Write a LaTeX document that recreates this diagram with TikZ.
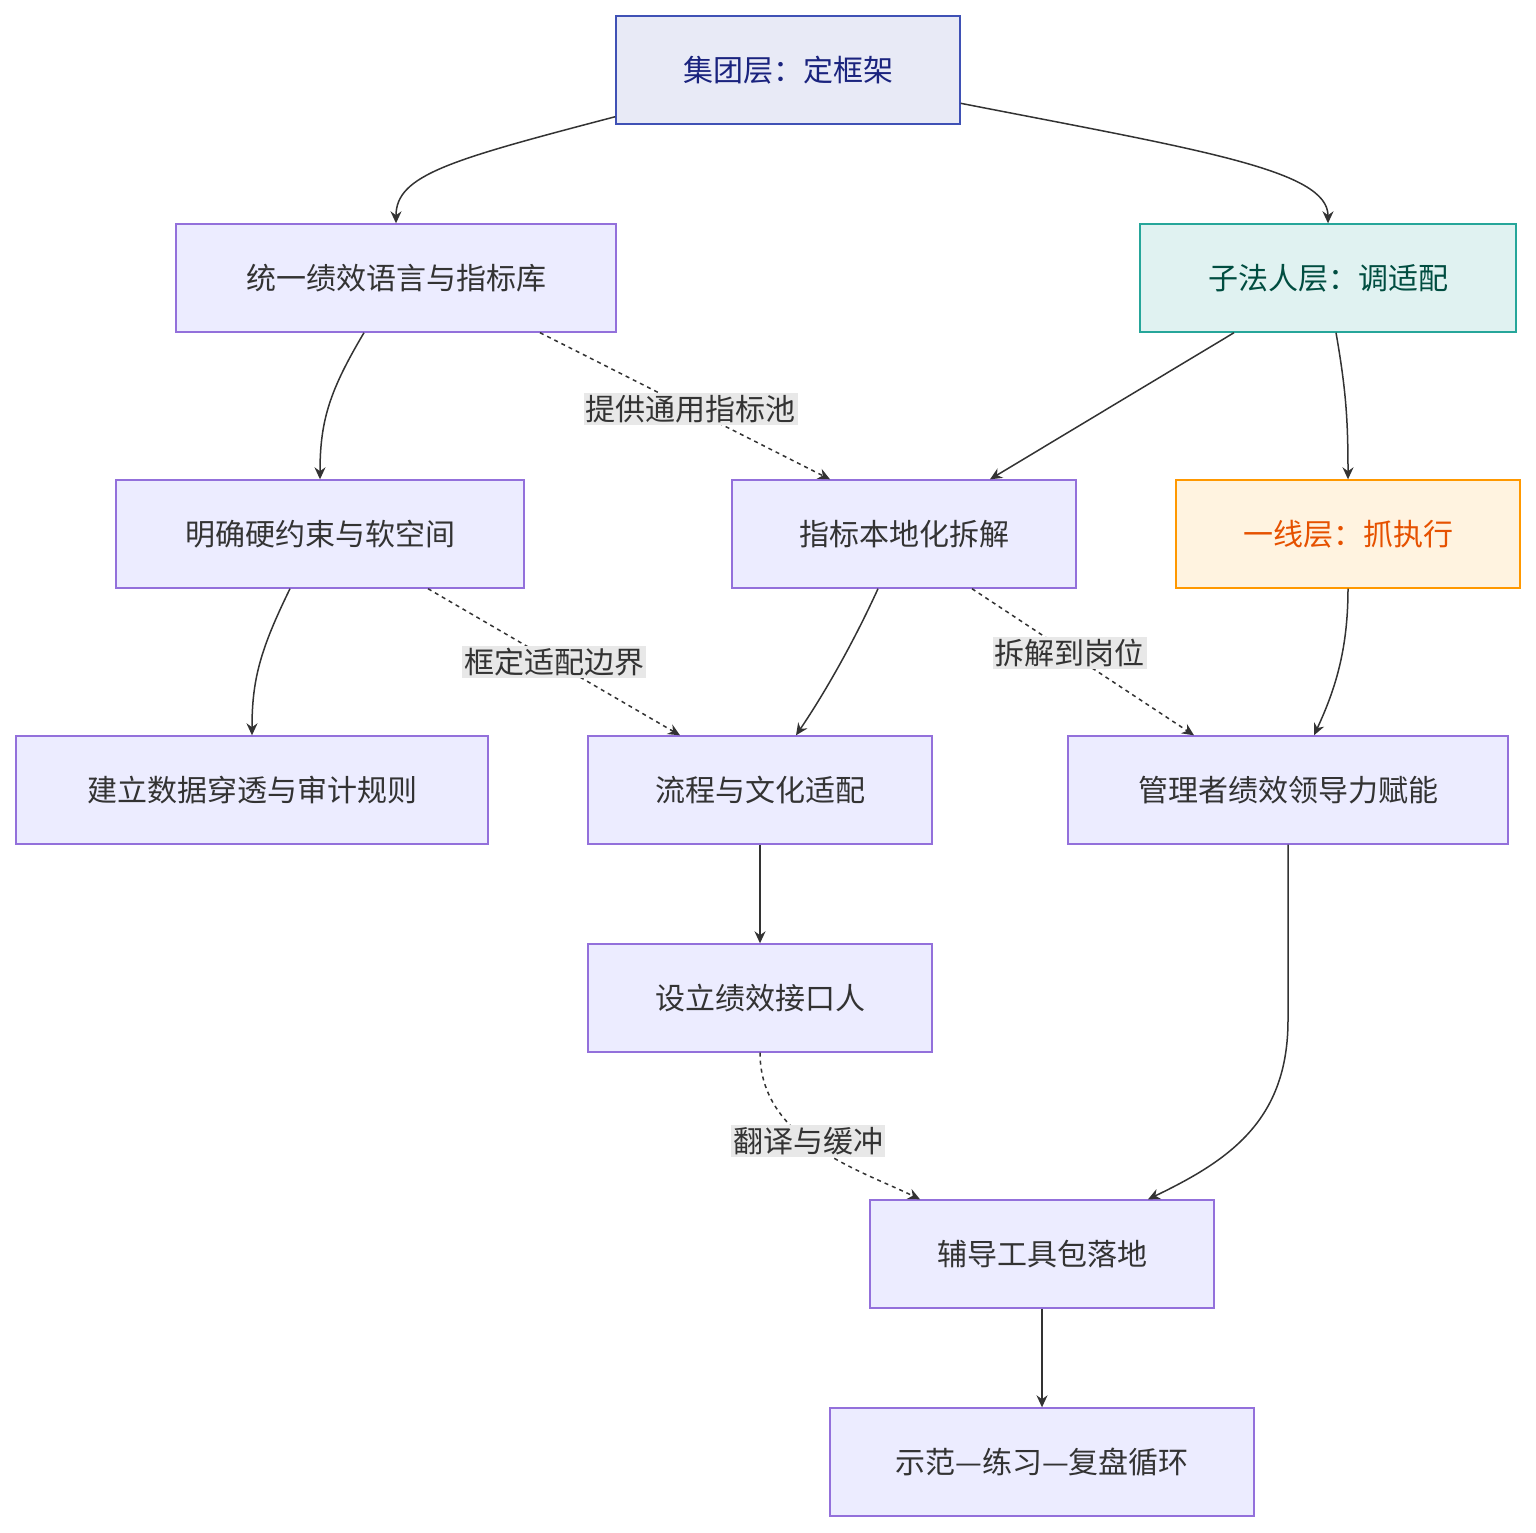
\documentclass[tikz,border=0pt]{standalone}
\usepackage{fontspec}
\setmainfont{Noto Sans CJK SC}
\usetikzlibrary{calc,arrows.meta}
\definecolor{nfill}{HTML}{ECECFF}
\definecolor{nstroke}{HTML}{9370DB}
\definecolor{ntext}{HTML}{333333}
\definecolor{edge}{HTML}{333333}
\definecolor{lbl}{HTML}{E8E8E8}
\definecolor{afill}{HTML}{E8EAF6}
\definecolor{astroke}{HTML}{3F51B5}
\definecolor{atext}{HTML}{1A237E}
\definecolor{cfill}{HTML}{E0F2F1}
\definecolor{cstroke}{HTML}{26A69A}
\definecolor{ctext}{HTML}{004D40}
\definecolor{ffill}{HTML}{FFF3E0}
\definecolor{fstroke}{HTML}{FF9800}
\definecolor{ftext}{HTML}{E65100}
\begin{document}
\begin{tikzpicture}[x=0.5pt,y=-0.5pt,
 box/.style={draw=nstroke,fill=nfill,text=ntext,line width=0.7pt,inner sep=0pt,minimum height=54pt,font=\fontsize{15}{18}\selectfont},
 e/.style={draw=edge,line width=0.75pt,-{Stealth[length=6pt,width=5.5pt]}},
 d/.style={e,dash pattern=on 2pt off 2pt},
 lab/.style={fill=lbl,text=ntext,inner sep=1pt,font=\fontsize{15}{18}\selectfont}]
\useasboundingbox (0,0) rectangle (1536,1532);
\node[box,draw=astroke,fill=afill,text=atext,minimum width=172pt] (A) at (788,70) {集团层：定框架};
\node[box,minimum width=220pt] (B) at (396,278) {统一绩效语言与指标库};
\node[box,draw=cstroke,fill=cfill,text=ctext,minimum width=188pt] (C) at (1328,278) {子法人层：调适配};
\node[box,minimum width=204pt] (D) at (320,534) {明确硬约束与软空间};
\node[box,minimum width=172pt] (E) at (904,534) {指标本地化拆解};
\node[box,draw=fstroke,fill=ffill,text=ftext,minimum width=172pt] (F) at (1348,534) {一线层：抓执行};
\node[box,minimum width=236pt] (G) at (252,790) {建立数据穿透与审计规则};
\node[box,minimum width=172pt] (H) at (760,790) {流程与文化适配};
\node[box,minimum width=220pt] (I) at (1288,790) {管理者绩效领导力赋能};
\node[box,minimum width=172pt] (J) at (760,998) {设立绩效接口人};
\node[box,minimum width=172pt] (K) at (1042,1254) {辅导工具包落地};
\node[box,minimum width=212pt] (L) at (1042,1462) {示范—练习—复盘循环};

\draw[e] ($(A.south west)+(0,-8)$) .. controls (450,160) and (396,175) .. (B.north);
\draw[e] ($(A.north east)+(0,88)$) .. controls (1200,150) and (1328,170) .. (C.north);
\draw[e] ($(B.south)+(-32,0)$) .. controls (330,390) and (320,420) .. (D.north);
\draw[d] ($(B.south)+(144,0)$) -- node[lab,pos=0.52] (l1) {提供通用指标池} ($(E.north)+(-74,0)$);
\draw[e] ($(C.south)+(-94,0)$) -- ($(E.north)+(86,0)$);
\draw[e] ($(C.south)+(8,0)$) .. controls (1346,390) and (1348,420) .. (F.north);
\draw[e] ($(D.south)+(-30,0)$) .. controls (260,650) and (252,680) .. (G.north);
\draw[d] ($(D.south)+(108,0)$) -- node[lab,pos=0.5] (l2) {框定适配边界} ($(H.north)+(-80,0)$);
\draw[e] ($(E.south)+(-26,0)$) .. controls (850,650) and (820,700) .. ($(H.north)+(36,0)$);
\draw[d] ($(E.south)+(68,0)$) -- node[lab,pos=0.44] (l3) {拆解到岗位} ($(I.north)+(-94,0)$);
\draw[e] (F.south) .. controls (1348,650) and (1335,690) .. ($(I.north)+(26,0)$);
\draw[e] (H.south) -- (J.north);
\draw[d] (J.south) .. controls (760,1140) and (860,1170) .. node[lab,pos=0.45] (l4) {翻译与缓冲} ($(K.north)+(-122,0)$);
\draw[e] (I.south) -- (1288,1020) .. controls (1288,1120) and (1230,1160) .. ($(K.north)+(106,0)$);
\draw[e] (K.south) -- (L.north);
\end{tikzpicture}
\end{document}
